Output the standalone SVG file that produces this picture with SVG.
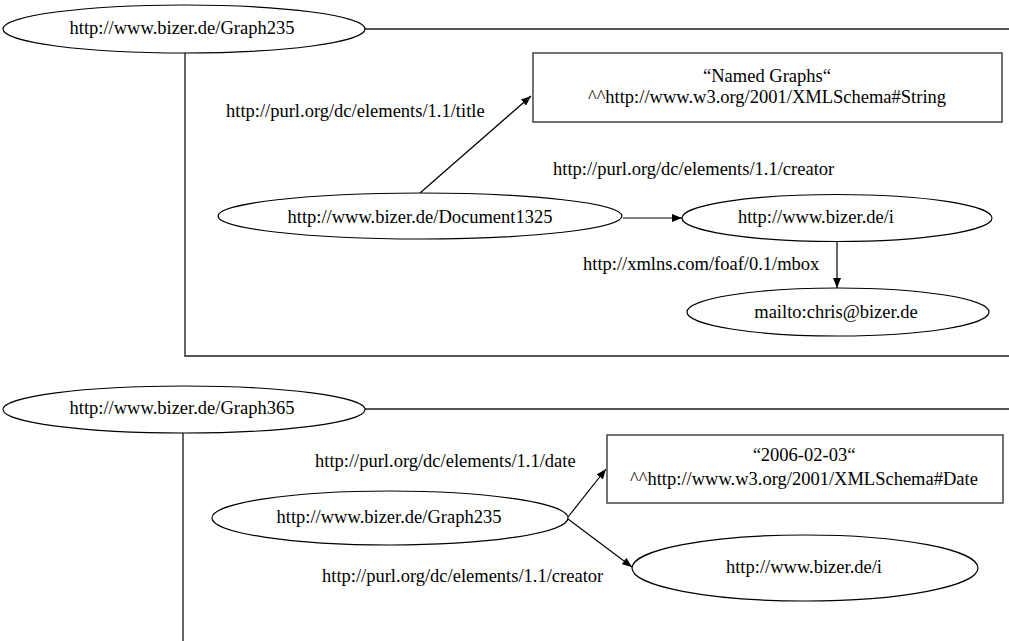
<svg xmlns="http://www.w3.org/2000/svg" width="1009" height="641" viewBox="0 0 1009 641">
<style>
text{font-family:"Liberation Serif","Times New Roman",serif;font-size:18.5px;fill:#000}
.c{text-anchor:middle}
.node{fill:#fff;stroke:#000;stroke-width:1.2}
.box{fill:#fff;stroke:#444;stroke-width:1.5}
.frame{fill:none;stroke:#555;stroke-width:1.8}
.edge{fill:none;stroke:#000;stroke-width:1.2;marker-end:url(#arr)}
</style>
<defs>
<marker id="arr" viewBox="0 0 10 8" refX="10" refY="4" markerWidth="10" markerHeight="8" markerUnits="userSpaceOnUse" orient="auto">
<path d="M0,0 L10,4 L0,8 z" fill="#000"/>
</marker>
</defs>
<rect width="1009" height="641" fill="#fff"/>
<g id="frames">
<path class="frame" d="M365,29 H1009 M185,53 V356 H1009"/>
<path class="frame" d="M365,409 H1009 M183,433 V641"/>
</g>
<g id="connectors">
<line class="edge" x1="420" y1="193" x2="531" y2="96"/>
<line class="edge" x1="623" y1="218" x2="682" y2="218"/>
<line class="edge" x1="837" y1="241" x2="837" y2="288"/>
<line class="edge" x1="568" y1="517" x2="606" y2="469"/>
<line class="edge" x1="568" y1="519" x2="632" y2="567"/>
<text x="226" y="117">http://purl.org/dc/elements/1.1/title</text>
<text x="553" y="175">http://purl.org/dc/elements/1.1/creator</text>
<text x="583" y="270">http://xmlns.com/foaf/0.1/mbox</text>
<text x="315" y="467">http://purl.org/dc/elements/1.1/date</text>
<text x="322" y="582">http://purl.org/dc/elements/1.1/creator</text>
</g>
<g id="graph235">
<ellipse class="node" cx="184" cy="29" rx="181" ry="24"/>
<text class="c" x="182" y="34">http://www.bizer.de/Graph235</text>
</g>
<g id="literal-named-graphs">
<rect class="box" x="533" y="53" width="469" height="69"/>
<text class="c" x="767" y="82">“Named Graphs“</text>
<text class="c" x="767" y="103">^^http://www.w3.org/2001/XMLSchema#String</text>
</g>
<g id="document1325">
<ellipse class="node" cx="420" cy="216" rx="202" ry="23"/>
<text class="c" x="420" y="223">http://www.bizer.de/Document1325</text>
</g>
<g id="bizer-i-1">
<ellipse class="node" cx="837" cy="218" rx="155" ry="23.5"/>
<text class="c" x="816" y="223">http://www.bizer.de/i</text>
</g>
<g id="mailto">
<ellipse class="node" cx="838" cy="312" rx="151" ry="24"/>
<text class="c" x="836" y="318">mailto:chris@bizer.de</text>
</g>
<g id="graph365">
<ellipse class="node" cx="184" cy="409.5" rx="181" ry="23.5"/>
<text class="c" x="182" y="414">http://www.bizer.de/Graph365</text>
</g>
<g id="literal-date">
<rect class="box" x="607" y="435" width="396" height="68"/>
<text class="c" x="804" y="461">“2006-02-03“</text>
<text class="c" x="804" y="485">^^http://www.w3.org/2001/XMLSchema#Date</text>
</g>
<g id="graph235-2">
<ellipse class="node" cx="390" cy="518" rx="178" ry="27"/>
<text class="c" x="389" y="523">http://www.bizer.de/Graph235</text>
</g>
<g id="bizer-i-2">
<ellipse class="node" cx="805" cy="568" rx="173" ry="33"/>
<text class="c" x="804" y="573">http://www.bizer.de/i</text>
</g>
</svg>
